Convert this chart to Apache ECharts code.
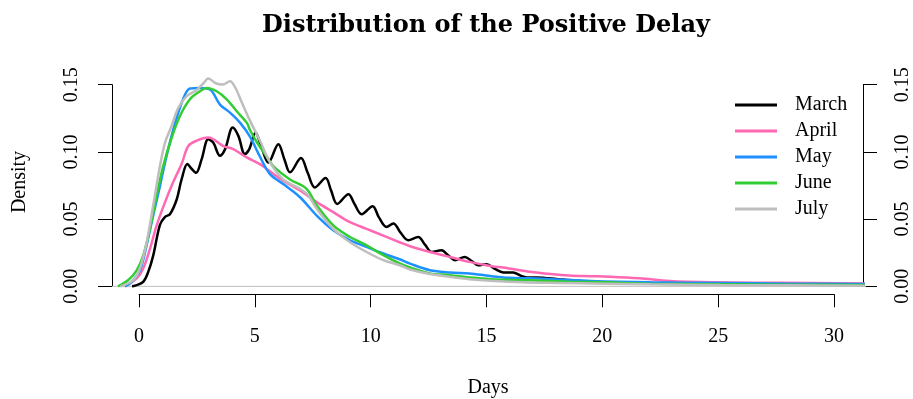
<!DOCTYPE html>
<html>
<head>
<meta charset="utf-8">
<script src="https://cdn.jsdelivr.net/npm/echarts@6/dist/echarts.min.js"></script>
<style>
html,body{margin:0;padding:0;background:#fff;}
#chart{width:913px;height:399px;}
</style>
</head>
<body>
<div id="chart"></div>
<script>
var xTicks = [0, 5, 10, 15, 20, 25, 30];
var yTicks = [0.00, 0.05, 0.10, 0.15];
var seriesNames = ['March', 'April', 'May', 'June', 'July'];
var seriesColors = ['#000000', '#FF69B4', '#1E90FF', '#32CD32', '#BEBEBE'];

var marchX = [-0.3,-0.17,0.18,0.4,0.61,0.9,1.12,1.33,1.62,1.83,2.08,2.26,2.45,2.69,2.98,3.19,3.48,3.70,4.03,4.27,4.55,4.74,5.01,5.25,5.56,5.99,6.25,6.49,6.96,7.25,7.56,8.02,8.25,8.52,9.0,9.25,9.57,10.04,10.3,10.64,10.93,11.25,11.57,12.0,12.3,12.58,13.0,13.3,13.58,14.0,14.3,14.58,14.94,15.3,15.66,16.08,16.4,16.66,17.09,18.1,19,20,22,25,28,31.2];
var marchY = [0,0.0005,0.0034,0.011,0.023,0.046,0.052,0.054,0.065,0.080,0.0915,0.088,0.085,0.095,0.110,0.1076,0.0977,0.1027,0.1188,0.1126,0.099,0.1027,0.115,0.105,0.0927,0.1064,0.095,0.0853,0.096,0.085,0.074,0.081,0.072,0.0617,0.069,0.062,0.054,0.060,0.052,0.0444,0.047,0.040,0.0345,0.0369,0.031,0.0257,0.027,0.023,0.0196,0.022,0.019,0.0158,0.0166,0.013,0.0104,0.0104,0.008,0.0067,0.0067,0.0052,0.004,0.003,0.0025,0.002,0.0015,0.001];

var aprilX = [-0.6,-0.1,0.18,0.47,0.76,1.12,1.47,1.83,2.12,2.48,2.98,3.62,4.05,4.63,5.2,5.49,6.2,6.92,7.64,8.35,9.07,9.78,10.5,11.2,11.65,12.5,13.37,14.2,15.1,15.9,16.8,17.7,18.5,19.4,20.2,21.5,22.8,24.7,27.5,31.2];
var aprilY = [0,0.006,0.0134,0.028,0.0456,0.063,0.078,0.0915,0.105,0.109,0.1113,0.105,0.1027,0.0965,0.0915,0.0878,0.079,0.0717,0.063,0.0555,0.048,0.043,0.038,0.033,0.030,0.0257,0.022,0.0183,0.0153,0.0134,0.0109,0.0092,0.0081,0.0076,0.0072,0.006,0.004,0.003,0.0027,0.0022];

var mayX = [-0.6,-0.31,0.04,0.33,0.61,0.9,1.12,1.4,1.69,1.98,2.19,2.62,3.05,3.48,3.91,4.34,4.77,5.2,5.63,6.2,6.92,7.64,8.35,9.07,9.78,10.5,11.2,11.65,12.5,13.37,14.2,15.1,15.9,16.8,17.95,19.4,22,25,28,31.2];
var mayY = [0,0.0034,0.012,0.031,0.053,0.075,0.0927,0.1126,0.13,0.1436,0.148,0.1485,0.1473,0.136,0.13,0.1225,0.112,0.097,0.084,0.0766,0.0667,0.053,0.042,0.0345,0.0295,0.0246,0.0203,0.017,0.0121,0.0104,0.0097,0.0077,0.0064,0.006,0.0052,0.004,0.003,0.0025,0.002,0.0018];

var juneX = [-0.9,-0.46,-0.1,0.18,0.47,0.76,1.04,1.4,1.76,2.19,2.62,2.91,3.34,3.77,4.2,4.63,4.77,5.06,5.49,5.77,6.49,7.2,7.64,8.35,9.07,9.78,10.5,11.2,11.65,12.5,13.37,14.2,15.1,16.8,18.5,20,22,25,28,31.2];
var juneY = [0,0.0047,0.012,0.023,0.043,0.068,0.090,0.111,0.1275,0.14,0.146,0.1485,0.146,0.14,0.131,0.1225,0.117,0.108,0.097,0.090,0.080,0.073,0.0605,0.0456,0.0369,0.0307,0.0233,0.0171,0.0141,0.0097,0.0084,0.0067,0.0054,0.0045,0.0035,0.003,0.002,0.0015,0.0012,0.001];

var julyX = [-0.8,-0.24,0.04,0.33,0.61,0.9,1.12,1.4,1.69,2.05,2.48,2.76,2.98,3.3,3.6,3.91,4.13,4.41,4.77,5.2,5.63,6.2,6.92,7.28,7.64,8.35,9.07,9.78,10.5,11.2,11.65,12.5,13.37,14.2,15.1,16.5,18,20,22,25,28,31.2];
var julyY = [0,0.0047,0.0134,0.033,0.0605,0.090,0.1076,0.12,0.1336,0.1423,0.147,0.1518,0.1555,0.152,0.151,0.1535,0.149,0.138,0.124,0.109,0.0927,0.080,0.073,0.068,0.058,0.043,0.033,0.0257,0.0196,0.0158,0.0126,0.0092,0.0071,0.0054,0.0042,0.003,0.0025,0.002,0.0015,0.001,0.0008,0.0005];

var plotXRange = [-1.1605, 31.246];
var plotYRange = [-0.0061, 0.1619];
var zeroLineX = [-1.1605, 31.246];
var zeroLineY = [0, 0];

function pairs(xs, ys) { return xs.map(function (x, i) { return [x, ys[i]]; }); }
var allX = [marchX, aprilX, mayX, juneX, julyX];
var allY = [marchY, aprilY, mayY, juneY, julyY];

var FONT = 'Liberation Serif';
var chart = echarts.init(document.getElementById('chart'), null, {renderer: 'canvas'});

var hiddenAxis = {show: false, splitLine: {show: false}};
var yAxisCommon = {
  type: 'value', min: 0, max: 0.15, interval: 0.05, gridIndex: 1,
  splitLine: {show: false},
  axisLine: {show: true, onZero: false, lineStyle: {color: '#000', width: 1}},
  axisTick: {show: true, length: 14, lineStyle: {color: '#000', width: 1}},
  axisLabel: {rotate: 90, margin: 30, color: '#000', fontFamily: FONT, fontSize: 20,
    formatter: function (v) { return v.toFixed(2); }}
};

var series = [{
  type: 'line', name: 'zero', data: pairs(zeroLineX, zeroLineY), showSymbol: false,
  xAxisIndex: 0, yAxisIndex: 0,
  lineStyle: {color: '#BEBEBE', width: 1}, silent: true, z: 1
}];
seriesNames.forEach(function (n, i) {
  series.push({
    type: 'line', name: n, data: pairs(allX[i], allY[i]), showSymbol: false,
    xAxisIndex: 0, yAxisIndex: 0,
    smooth: 0.35, lineStyle: {color: seriesColors[i], width: 2.5}, itemStyle: {color: seriesColors[i]}, z: 2 + i
  });
});

chart.setOption({
  animation: false,
  backgroundColor: '#fff',
  title: {text: 'Distribution of the Positive Delay', left: 262, top: 14, padding: 0,
    textStyle: {fontFamily: 'DejaVu Serif', fontWeight: 'bold', fontSize: 24, color: '#000'}},
  grid: [
    {left: 112, right: 47, top: 70, bottom: 104.5, containLabel: false},
    {left: 139, right: 76, top: 84.7, bottom: 112.7, containLabel: false}
  ],
  xAxis: [
    Object.assign({type: 'value', gridIndex: 0, min: plotXRange[0], max: plotXRange[1]}, hiddenAxis),
    {
      type: 'value', gridIndex: 1, min: 0, max: 30, interval: 5, offset: 8,
      splitLine: {show: false},
      axisLine: {show: true, onZero: false, lineStyle: {color: '#000', width: 1}},
      axisTick: {show: true, length: 13, lineStyle: {color: '#000'}},
      axisLabel: {margin: 32, color: '#000', fontFamily: FONT, fontSize: 20}
    }
  ],
  yAxis: [
    Object.assign({type: 'value', gridIndex: 0, min: plotYRange[0], max: plotYRange[1]}, hiddenAxis),
    Object.assign({}, yAxisCommon, {position: 'left', offset: 27}),
    Object.assign({}, yAxisCommon, {position: 'right', offset: 29})
  ],
  legend: {
    data: seriesNames, orient: 'vertical', left: 735, top: 94, itemGap: 4, padding: 0,
    icon: 'rect', itemWidth: 42, itemHeight: 3,
    textStyle: {fontFamily: FONT, fontSize: 20, color: '#000', padding: [0, 0, 0, 13], lineHeight: 22}
  },
  graphic: [
    {type: 'text', x: 488, y: 388, style: {text: 'Days', font: '20px "' + FONT + '"', fill: '#000', textAlign: 'center', textVerticalAlign: 'middle'}},
    {type: 'text', x: 20, y: 182, rotation: Math.PI / 2, style: {text: 'Density', font: '20px "' + FONT + '"', fill: '#000', textAlign: 'center', textVerticalAlign: 'middle'}}
  ],
  series: series
});
</script>
</body>
</html>
